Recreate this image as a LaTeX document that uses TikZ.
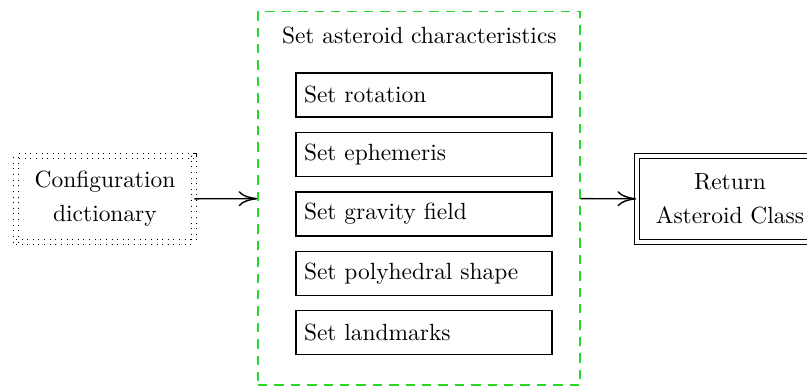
\documentclass[tikz,border=0pt]{standalone}
\usetikzlibrary{positioning, arrows.meta}
\definecolor{framegreen}{RGB}{40,215,40}

\begin{document}
\begin{tikzpicture}[>={Computer Modern Rightarrow[length=8pt, width=6.5pt]},
  inbox/.style={draw, dotted, double, double distance=1.7pt, align=center, minimum width=2.67cm, minimum height=1.3cm},
  setbox/.style={draw, semithick, align=left, text width=3.6cm, minimum height=0.66cm},
  frame/.style={draw, semithick, framegreen, dash pattern=on 4pt off 3pt, minimum width=4.83cm, minimum height=5.6cm},
  outbox/.style={draw, double, double distance=1.8pt, align=center, minimum width=2.8cm, minimum height=1.29cm}]
  \useasboundingbox (0,0) rectangle (12.105,5.805);
  \node[frame] (frm) at (6.285,2.83) {};
  \node (ttl) at (6.29,5.27) {Set asteroid characteristics};
  \node[setbox] (rot) at (6.36,4.38) {Set rotation};
  \node[setbox, below=0.21cm of rot] (eph) {Set ephemeris};
  \node[setbox, below=0.21cm of eph] (grav) {Set gravity field};
  \node[setbox, below=0.21cm of grav] (poly) {Set polyhedral shape};
  \node[setbox, below=0.21cm of poly] (lmk) {Set landmarks};
  \node[inbox] (cfg) at (1.575,2.82) {Configuration\\[2.5pt] dictionary};
  \node[outbox] (ret) at (10.95,2.82) {Return\\[2.5pt] Asteroid Class};
  \draw[->, semithick] (cfg) -- (frm); \draw[->, semithick] (frm) -- (ret);
\end{tikzpicture}
\end{document}
